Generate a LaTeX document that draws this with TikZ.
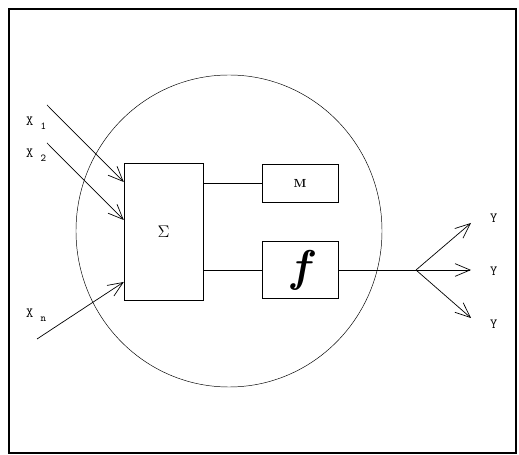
\documentclass[tikz,border=0pt]{standalone}
\usepackage{tikz}
\usetikzlibrary{positioning, arrows.meta, shapes.geometric, calc}

\begin{document}
\begin{tikzpicture}[
    x=0.03cm, y=-0.03cm,
    box/.style={draw, rectangle, inner sep=0pt, minimum width=2.28cm},
    arr/.style={-{Straight Barb[length=4.5mm, width=3.8mm]}, semithick},
    lbl/.style={font=\ttfamily\large, anchor=west, inner sep=0pt}
]
    \useasboundingbox (0,0) rectangle (519,455);
    \draw[line width=1pt] (9,9) rectangle (516,453);

    \node[draw, ellipse, minimum width=9.18cm, minimum height=9.36cm] (neuron) at (229,231) {};

    \node[box, minimum width=2.37cm, minimum height=4.11cm] (sum) at (163.5,231.5) {\Large$\Sigma$};
    \node[box, minimum height=1.14cm] (mem) at (300,183) {\bfseries M};
    \node[box, minimum height=1.71cm] (act) at (300,270) {\fontsize{38}{38}\selectfont\bfseries\itshape f};

    \draw (sum.east |- mem) -- (mem.west);
    \draw (sum.east |- act) -- (act.west);

    % inputs
    \coordinate (in1) at (sum.west |- 0,182);
    \coordinate (in2) at (sum.west |- 0,220);
    \coordinate (inn) at (sum.west |- 0,282);
    \coordinate (s1) at (47,105);
    \coordinate (s2) at (47,143);
    \coordinate (sn) at (37,339);
    \draw[arr] (s1) -- (in1);
    \draw[arr] (s2) -- (in2);
    \draw[arr] (sn) -- (inn);
    \node[lbl] (x1) at (26,123) {X~\raisebox{-0.7ex}{\small 1}};
    \node[lbl] (x2) at (26,155) {X~\raisebox{-0.7ex}{\small 2}};
    \node[lbl] (xn) at (26,315) {X~\raisebox{-0.7ex}{\small n}};

    % outputs
    \coordinate (split) at (416,270);
    \coordinate (o1) at (471,223);
    \coordinate (o2) at (471,270);
    \coordinate (o3) at (471,318);
    \draw (act.east) -- (split);
    \draw[arr] (split) -- (o1);
    \draw[arr] (split) -- (o2);
    \draw[arr] (split) -- (o3);
    \node[lbl] (y1) at (490,218) {Y};
    \node[lbl] (y2) at (490,271) {Y};
    \node[lbl] (y3) at (490,324) {Y};
\end{tikzpicture}
\end{document}
